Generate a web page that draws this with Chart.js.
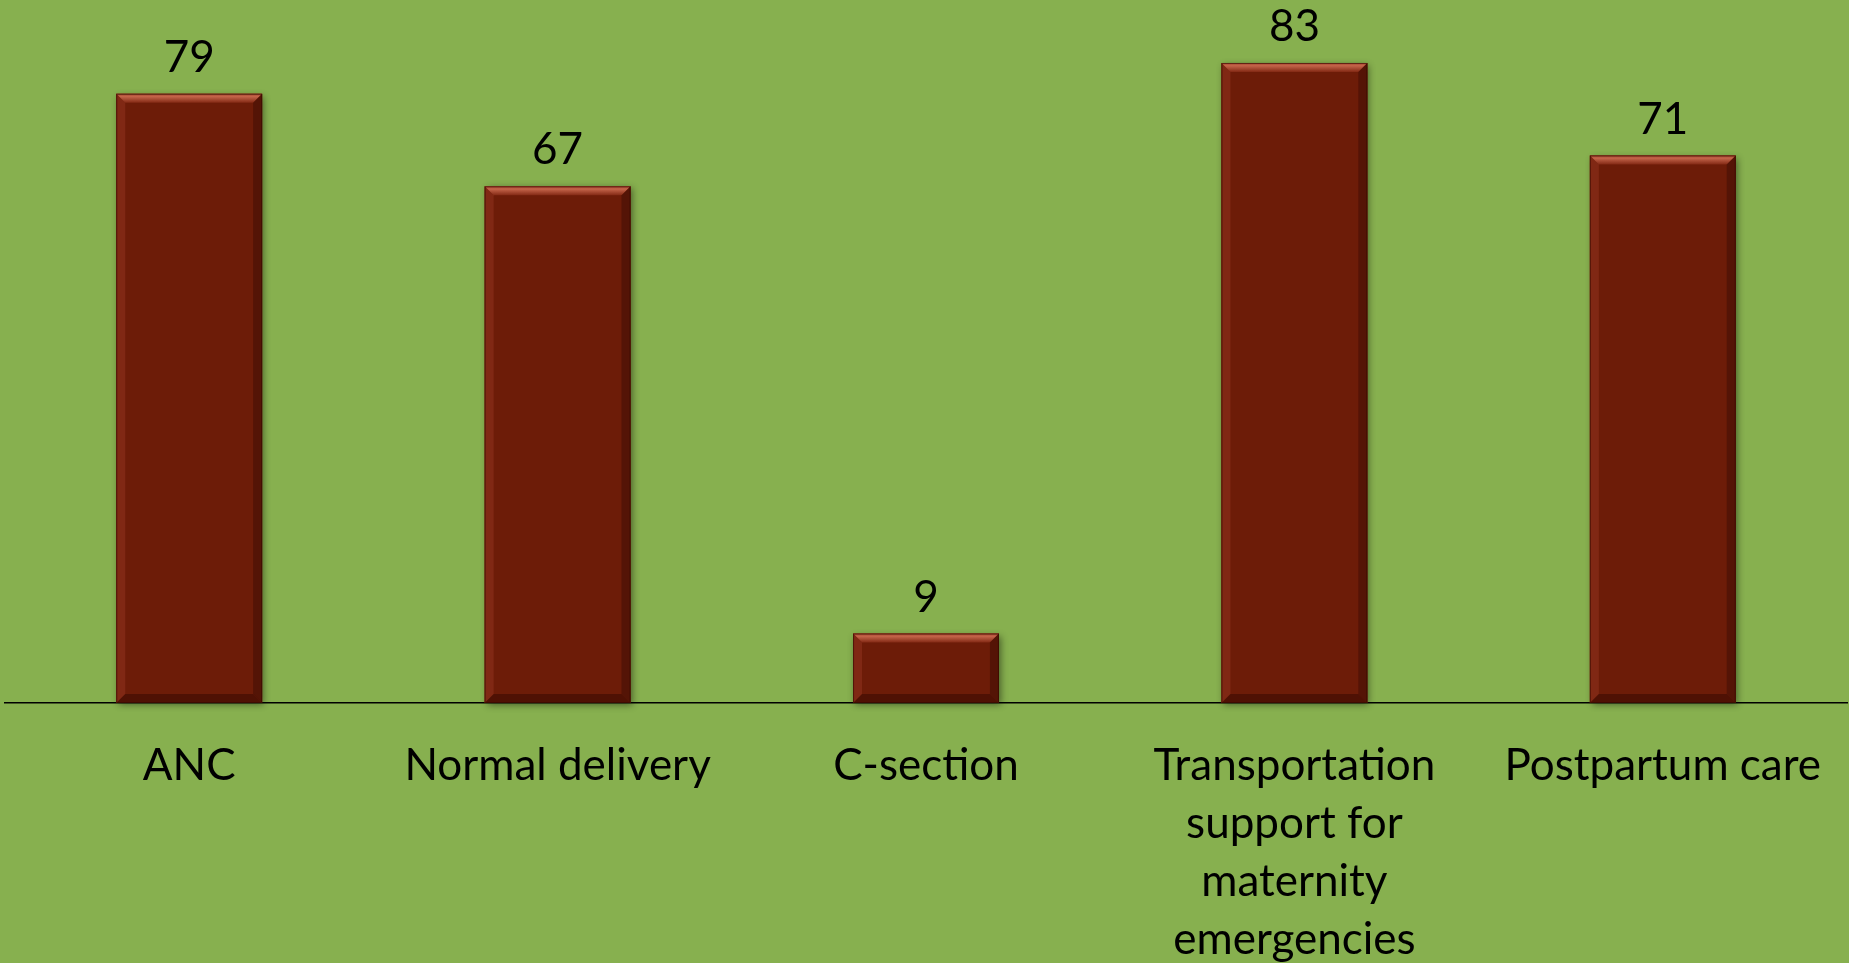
<!DOCTYPE html>
<html>
<head>
<meta charset="utf-8">
<title>Maternal services</title>
<script src="https://cdn.jsdelivr.net/npm/chart.js@4.4.1/dist/chart.umd.min.js"></script>
<style>
    html, body {
        margin: 0;
        padding: 0;
        background: #87b04f;
        overflow: hidden;
    }
    #wrap {
        width: 1849px;
        height: 963px;
    }
</style>
</head>
<body>
<div id="wrap"><canvas id="chart" width="1849" height="963"></canvas></div>
<script>
const categories = [
    'ANC',
    'Normal delivery',
    'C-section',
    ['Transportation', 'support for', 'maternity', 'emergencies'],
    'Postpartum care'
];
const values = [79, 67, 9, 83, 71];
const yMin = 0;
const yMax = 90;

const FONT = 'Lato, "Open Sans", sans-serif';
const BAR_COLOR = '#6d1c08';

// shadow + bevel look of the original bars
const bevelBars = {
    id: 'bevelBars',
    beforeDatasetsDraw(chart) {
        const ctx = chart.ctx;
        chart.getDatasetMeta(0).data.forEach(bar => {
            const left = bar.x - bar.width / 2;
            ctx.save();
            ctx.shadowColor = 'rgba(0,0,0,0.45)';
            ctx.shadowBlur = 7;
            ctx.shadowOffsetX = 2;
            ctx.shadowOffsetY = 2;
            ctx.fillStyle = BAR_COLOR;
            ctx.fillRect(left, bar.y, bar.width, bar.base - bar.y);
            ctx.restore();
        });
    },
    afterDatasetsDraw(chart) {
        const ctx = chart.ctx;
        const b = 9;
        chart.getDatasetMeta(0).data.forEach(bar => {
            const l = bar.x - bar.width / 2;
            const r = bar.x + bar.width / 2;
            const t = bar.y;
            const btm = bar.base;
            const bb = Math.min(b, (btm - t) / 2);
            ctx.save();
            // top
            let g = ctx.createLinearGradient(0, t, 0, t + bb);
            g.addColorStop(0, '#a5442c');
            g.addColorStop(0.3, '#c4644a');
            g.addColorStop(1, '#832914');
            ctx.fillStyle = g;
            ctx.beginPath();
            ctx.moveTo(l, t); ctx.lineTo(r, t); ctx.lineTo(r - bb, t + bb); ctx.lineTo(l + bb, t + bb);
            ctx.closePath(); ctx.fill();
            // left
            ctx.fillStyle = 'rgba(150,55,35,0.45)';
            ctx.beginPath();
            ctx.moveTo(l, t); ctx.lineTo(l + bb, t + bb); ctx.lineTo(l + bb, btm - bb); ctx.lineTo(l, btm);
            ctx.closePath(); ctx.fill();
            // right
            ctx.fillStyle = 'rgba(60,12,3,0.5)';
            ctx.beginPath();
            ctx.moveTo(r, t); ctx.lineTo(r - bb, t + bb); ctx.lineTo(r - bb, btm - bb); ctx.lineTo(r, btm);
            ctx.closePath(); ctx.fill();
            // bottom
            ctx.fillStyle = 'rgba(55,10,2,0.55)';
            ctx.beginPath();
            ctx.moveTo(l, btm); ctx.lineTo(l + bb, btm - bb); ctx.lineTo(r - bb, btm - bb); ctx.lineTo(r, btm);
            ctx.closePath(); ctx.fill();
            ctx.strokeStyle = 'rgba(50,8,0,0.6)';
            ctx.lineWidth = 1;
            ctx.strokeRect(l + 0.5, t + 0.5, r - l - 1, btm - t - 1);
            ctx.restore();
        });
    }
};

// value labels above bars
const valueLabels = {
    id: 'valueLabels',
    afterDatasetsDraw(chart) {
        const ctx = chart.ctx;
        const data = chart.data.datasets[0].data;
        ctx.save();
        ctx.font = '44px ' + FONT;
        ctx.fillStyle = '#000';
        ctx.textAlign = 'center';
        ctx.textBaseline = 'alphabetic';
        chart.getDatasetMeta(0).data.forEach((bar, i) => {
            ctx.fillText(String(data[i]), bar.x, bar.y - 22);
        });
        ctx.restore();
    }
};

new Chart(document.getElementById('chart'), {
    type: 'bar',
    data: {
        labels: categories,
        datasets: [{
            data: values,
            backgroundColor: BAR_COLOR,
            borderWidth: 0,
            barPercentage: 0.396,
            categoryPercentage: 1
        }]
    },
    options: {
        responsive: false,
        animation: false,
        layout: { padding: { left: 5, right: 2, top: 9, bottom: 0 } },
        plugins: {
            legend: { display: false },
            tooltip: { enabled: false }
        },
        scales: {
            x: {
                grid: { display: false },
                border: { display: true, color: '#000', width: 1.5 },
                ticks: {
                    color: '#000',
                    font: { family: FONT, size: 44, lineHeight: 58 / 44 },
                    padding: 26,
                    maxRotation: 0,
                    autoSkip: false
                },
                afterFit(scale) { scale.height = 260; }
            },
            y: {
                display: false,
                min: yMin,
                max: yMax
            }
        }
    },
    plugins: [bevelBars, valueLabels]
});
</script>
</body>
</html>
